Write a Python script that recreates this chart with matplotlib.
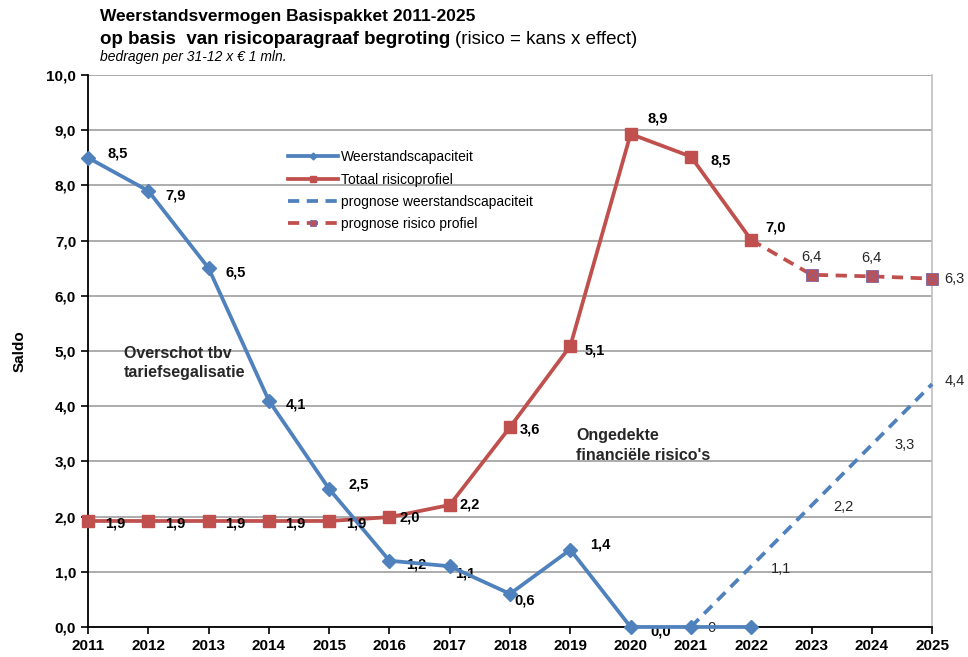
import matplotlib.pyplot as plt
import numpy as np

plt.rcParams['font.family'] = ['Liberation Sans', 'DejaVu Sans']

jaren = list(range(2011, 2026))

# werkelijk / begroot
jaren_wc = [2011, 2012, 2013, 2014, 2015, 2016, 2017, 2018, 2019, 2020, 2021, 2022]
weerstandscap = [8.5, 7.9, 6.5, 4.1, 2.5, 1.2, 1.1, 0.6, 1.4, 0.0, 0.0, 0.0]
wc_labels = ['8,5', '7,9', '6,5', '4,1', '2,5', '1,2', '1,1', '0,6', '1,4', '0,0', None, None]

jaren_rp = [2011, 2012, 2013, 2014, 2015, 2016, 2017, 2018, 2019, 2020, 2021, 2022]
risicoprofiel = [1.92, 1.92, 1.92, 1.92, 1.92, 1.99, 2.21, 3.62, 5.09, 8.93, 8.52, 7.01]
rp_labels = ['1,9', '1,9', '1,9', '1,9', '1,9', '2,0', '2,2', '3,6', '5,1', '8,9', '8,5', '7,0']

# prognoses
jaren_pwc = [2021, 2022, 2023, 2024, 2025]
prognose_wc = [0.0, 1.1, 2.2, 3.3, 4.4]
pwc_labels = ['0', '1,1', '2,2', '3,3', '4,4']

jaren_prp = [2022, 2023, 2024, 2025]
prognose_rp = [7.01, 6.38, 6.35, 6.31]
prp_labels = [None, '6,4', '6,4', '6,3']

blauw = '#4F81BD'
rood = '#C0504D'

fig = plt.figure(figsize=(9.68, 6.57), dpi=100)
ax = fig.add_axes([0.0909, 0.0457, 0.872, 0.8403])

ax.plot(jaren_pwc, prognose_wc, color=blauw, lw=2.7, ls=(0, (3, 2)), clip_on=False,
        label='prognose weerstandscapaciteit', zorder=3)
ax.plot(jaren_prp, prognose_rp, color=rood, lw=2.7, ls=(0, (3, 2)), marker='s', ms=9,
        mec='#8064A2', mew=0.6, clip_on=False, label='prognose risico profiel', zorder=3)
ax.plot(jaren_prp, prognose_rp, ls='none', marker='x', ms=7, color='#8064A2', mew=0.6,
        clip_on=False, zorder=4)
ax.plot(jaren_wc, weerstandscap, color=blauw, lw=2.7, marker='D', ms=7, clip_on=False,
        label='Weerstandscapaciteit', zorder=5)
ax.plot(jaren_rp, risicoprofiel, color=rood, lw=2.7, marker='s', ms=9, clip_on=False,
        label='Totaal risicoprofiel', zorder=4)

# datalabels
wc_off = [(14, 3), (12, -3), (12, -3), (12, -3), (14, 3), (12, -3), (4, -5), (3, -5),
          (14, 4), (14, -3), (0, 0), (0, 0)]
for x, y, t, o in zip(jaren_wc, weerstandscap, wc_labels, wc_off):
    if t:
        ax.annotate(t, (x, y), xytext=o, textcoords='offset points', fontsize=10.5,
                    fontweight='bold', va='center', ha='left')
rp_off = [(12, -2), (12, -2), (12, -2), (12, -2), (12, -2), (7, 0), (7, 0), (7, -2),
          (10, -3), (12, 11), (14, -3), (10, 9)]
for x, y, t, o in zip(jaren_rp, risicoprofiel, rp_labels, rp_off):
    if t:
        ax.annotate(t, (x, y), xytext=o, textcoords='offset points', fontsize=10.5,
                    fontweight='bold', va='center', ha='left', zorder=6)
pwc_off = [(12, -1), (14, -2), (16, -1), (16, 0), (9, 2)]
for x, y, t, o in zip(jaren_pwc, prognose_wc, pwc_labels, pwc_off):
    if t:
        ax.annotate(t, (x, y), xytext=o, textcoords='offset points', fontsize=10.5,
                    color='#262626', va='center', ha='left')
prp_off = [(0, 0), (0, 13), (0, 13), (9, 0)]
for x, y, t, o in zip(jaren_prp, prognose_rp, prp_labels, prp_off):
    if t:
        ax.annotate(t, (x, y), xytext=o, textcoords='offset points', fontsize=10.5,
                    color='#262626', va='center', ha='center' if o[0] == 0 else 'left')

ax.text(2011.6, 4.78, 'Overschot tbv\ntariefsegalisatie', fontsize=11.5, fontweight='bold',
        color='#262626', va='center', ha='left', linespacing=1.4)
ax.text(2019.1, 3.28, 'Ongedekte\nfinanciële risico\'s', fontsize=11.5, fontweight='bold',
        color='#262626', va='center', ha='left', linespacing=1.4)

ax.set_xlim(2011, 2025)
ax.set_ylim(0, 10)
ax.set_xticks(jaren)
ax.set_yticks(np.arange(0, 11, 1))
ax.set_yticklabels([f'{v:.1f}'.replace('.', ',') for v in np.arange(0, 11, 1)])
ax.tick_params(axis='both', labelsize=11, direction='out', length=5, width=1.2)
for lab in ax.get_xticklabels() + ax.get_yticklabels():
    lab.set_fontweight('bold')
ax.grid(axis='y', color='#A6A6A6', lw=1.3)
ax.set_axisbelow(True)
ax.spines['top'].set_visible(False)
ax.spines['right'].set_color('#BFBFBF')
ax.spines['right'].set_linewidth(1.2)
ax.spines['left'].set_linewidth(1.3)
ax.spines['bottom'].set_linewidth(1.3)
ax.set_ylabel('Saldo', fontsize=11, fontweight='bold', labelpad=14)

handles, labels = ax.get_legend_handles_labels()
volgorde = [2, 3, 0, 1]
ax.legend([handles[i] for i in volgorde], [labels[i] for i in volgorde],
          loc='upper left', bbox_to_anchor=(0.222, 0.886), frameon=False, fontsize=10,
          handlelength=3.6, markerscale=0.5, labelspacing=0.6, handletextpad=0.25)

fig.text(0.103, 0.975, 'Weerstandsvermogen Basispakket 2011-2025', fontsize=12.5,
         fontweight='bold', va='center')
t1 = fig.text(0.103, 0.94, 'op basis  van risicoparagraaf begroting', fontsize=13.5,
              fontweight='bold', va='center')
fig.canvas.draw()
bb = t1.get_window_extent()
fig.text(bb.x1 / fig.bbox.width + 0.005, 0.94, '(risico = kans x effect)', fontsize=13.5,
         va='center')
fig.text(0.103, 0.913, 'bedragen per 31-12 x € 1 mln.', fontsize=10, style='italic',
         va='center')

fig.savefig('out.png', dpi=100)
